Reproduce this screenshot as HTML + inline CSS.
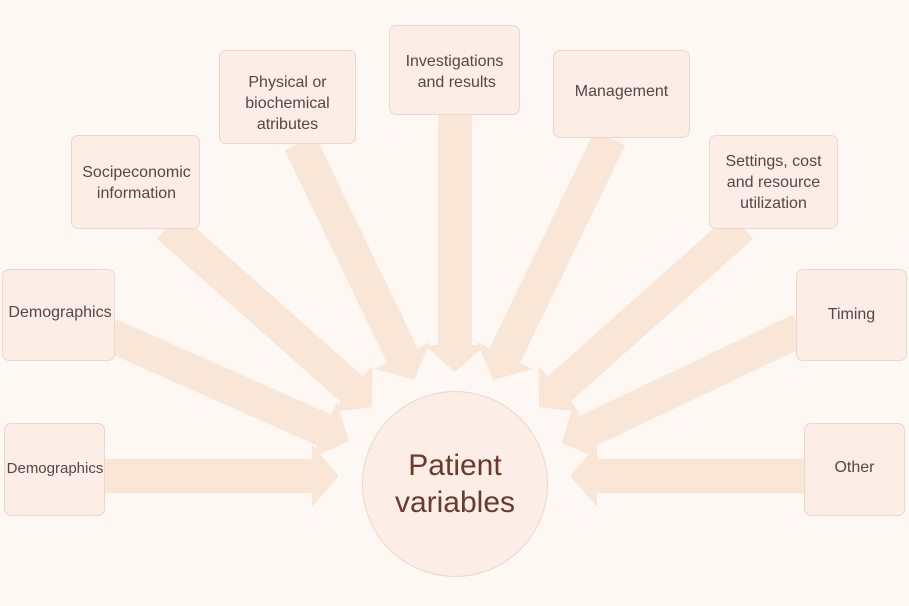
<!DOCTYPE html>
<html><head><meta charset="utf-8"><style>
html,body{margin:0;padding:0;}
body{width:909px;height:606px;background:#fdf8f4;position:relative;overflow:hidden;font-family:"Liberation Sans",sans-serif;color:#5a4444;}
svg{position:absolute;left:0;top:0;}
.b{position:absolute;background:#fcede6;border:1px solid #ecd8ca;border-radius:7px;box-sizing:border-box;}
.t{position:absolute;font-size:16px;line-height:21px;text-align:center;white-space:nowrap;}
</style></head><body>
<svg id="s" width="909" height="606"></svg>
<div class="b" style="left:4px;top:423px;width:101px;height:93px"></div>
<div class="b" style="left:2px;top:269px;width:113px;height:92px"></div>
<div class="b" style="left:71px;top:135px;width:129px;height:94px"></div>
<div class="b" style="left:219px;top:50px;width:137px;height:94px"></div>
<div class="b" style="left:389px;top:25px;width:131px;height:90px"></div>
<div class="b" style="left:553px;top:50px;width:137px;height:88px"></div>
<div class="b" style="left:709px;top:135px;width:129px;height:94px"></div>
<div class="b" style="left:796px;top:269px;width:111px;height:92px"></div>
<div class="b" style="left:804px;top:423px;width:101px;height:93px"></div>
<div style="position:absolute;left:362px;top:391px;width:186px;height:186px;border-radius:50%;background:#fcede6;border:1px solid #ecd8ca;box-sizing:border-box"></div>
<div class="t" style="left:0;width:110px;top:458px;font-size:15px">Demographics</div>
<div class="t" style="left:2px;width:116px;top:302px">Demographics</div>
<div class="t" style="left:71px;width:131px;top:162px">Socipeconomic<br>information</div>
<div class="t" style="left:219px;width:137px;top:72px">Physical or<br>biochemical<br>atributes</div>
<div class="t" style="left:389px;width:131px;top:51px">Investigations<br>&nbsp;and results</div>
<div class="t" style="left:553px;width:137px;top:81px">Management</div>
<div class="t" style="left:709px;width:129px;top:151px">Settings, cost<br>and resource<br>utilization</div>
<div class="t" style="left:796px;width:111px;top:304px">Timing</div>
<div class="t" style="left:804px;width:101px;top:457px">Other</div>
<div class="t" style="left:362px;width:186px;top:447px;font-size:30px;line-height:37px;color:#6b3a2e">Patient<br>variables</div>
<script>
var A=[[105,476,339,476],[110,335,349,441],[168,226,372,407],[300,143,414,380],[455,115,455,372],[610,138,493,380],[742,226,539,407],[800,330,562,443],[805,476,570,476]];
var s='';
A.forEach(function(a){
 var dx=a[2]-a[0],dy=a[3]-a[1],L=Math.hypot(dx,dy),ux=dx/L,uy=dy/L,px=-uy,py=ux;
 var w=17,h=31,hl=27;
 var bx=a[2]-ux*hl,by=a[3]-uy*hl;
 var p=[[a[0]+px*w,a[1]+py*w],[bx+px*w,by+py*w],[bx+px*h,by+py*h],[a[2],a[3]],[bx-px*h,by-py*h],[bx-px*w,by-py*w],[a[0]-px*w,a[1]-py*w]];
 s+='<polygon fill="#f9e6d7" points="'+p.map(function(q){return q[0].toFixed(1)+','+q[1].toFixed(1)}).join(' ')+'"/>';
});
document.getElementById('s').innerHTML=s;
</script>
</body></html>
